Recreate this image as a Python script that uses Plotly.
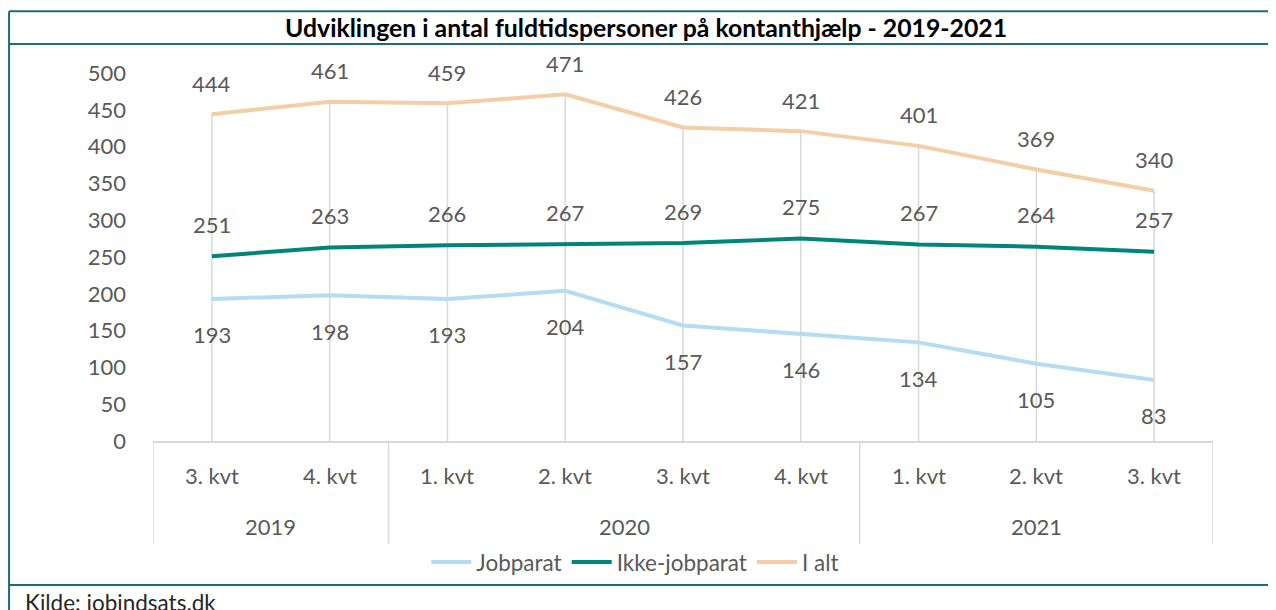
import plotly.graph_objects as go

# data
quarters = ["3. kvt", "4. kvt", "1. kvt", "2. kvt", "3. kvt", "4. kvt", "1. kvt", "2. kvt", "3. kvt"]
years = ["2019", "2020", "2021"]
year_spans = [(0, 1), (2, 5), (6, 8)]
jobparat = [193, 198, 193, 204, 157, 146, 134, 105, 83]
ikke_jobparat = [251, 263, 266, 267, 269, 275, 267, 264, 257]
i_alt = [444, 461, 459, 471, 426, 421, 401, 369, 340]

title = "Udviklingen i antal fuldtidspersoner på kontanthjælp - 2019-2021"
source = "Kilde: jobindsats.dk"

FONT = "Lato"
GREY = "#595959"
TEAL_BORDER = "#1B6E74"
x = list(range(len(quarters)))

fig = go.Figure()

# drop lines from the top point down to the axis
dx, dy = [], []
for i in x:
    top = max(jobparat[i], ikke_jobparat[i], i_alt[i])
    dx += [i, i, None]
    dy += [0, top, None]
fig.add_trace(go.Scatter(x=dx, y=dy, mode="lines", line=dict(color="#D9D9D9", width=1.5),
                         showlegend=False, hoverinfo="skip"))

series = [
    ("Jobparat", jobparat, "#B4DDF4", -36),
    ("Ikke-jobparat", ikke_jobparat, "#00857A", 32),
    ("I alt", i_alt, "#F3CEA6", 31),
]
for name, vals, color, shift in series:
    fig.add_trace(go.Scatter(x=x, y=vals, mode="lines", name=name,
                             line=dict(color=color, width=4)))
    for i, v in zip(x, vals):
        fig.add_annotation(x=i, y=v, text=str(v), showarrow=False, yshift=shift,
                           yanchor="middle", font=dict(family=FONT, size=22, color=GREY))

# category labels
for i, q in zip(x, quarters):
    fig.add_annotation(x=i, y=-0.093, yref="paper", text=q, showarrow=False, yanchor="middle",
                       font=dict(family=FONT, size=22, color=GREY))
for yr, (a, b) in zip(years, year_spans):
    fig.add_annotation(x=(a + b) / 2, y=-0.232, yref="paper", text=yr, showarrow=False,
                       yanchor="middle", font=dict(family=FONT, size=22, color=GREY))
# separators between years
for sep in [-0.5, 1.5, 5.5, 8.5]:
    fig.add_shape(type="line", xref="x", yref="paper", x0=sep, x1=sep, y0=0, y1=-0.28,
                  line=dict(color="#D9D9D9", width=1.5))

# outer frame and title bar
fig.add_shape(type="line", xref="paper", yref="paper", x0=-0.1358, x1=1.08, y0=1.168, y1=1.168,
              line=dict(color=TEAL_BORDER, width=2))
fig.add_shape(type="line", xref="paper", yref="paper", x0=-0.1358, x1=1.08, y0=1.079, y1=1.079,
              line=dict(color=TEAL_BORDER, width=2))
fig.add_shape(type="line", xref="paper", yref="paper", x0=-0.1358, x1=1.08, y0=-0.391, y1=-0.391,
              line=dict(color=TEAL_BORDER, width=2))
fig.add_shape(type="line", xref="paper", yref="paper", x0=-0.1358, x1=-0.1358, y0=1.168, y1=-0.5,
              line=dict(color=TEAL_BORDER, width=2))
fig.add_annotation(x=0.465, y=1.124, xref="paper", yref="paper", text="<b>" + title + "</b>",
                   showarrow=False, xanchor="center", yanchor="middle",
                   font=dict(family=FONT, size=24.8, color="black"))
fig.add_annotation(x=-0.1226, y=-0.44, xref="paper", yref="paper", text=source, xanchor="left",
                   yanchor="middle", showarrow=False,
                   font=dict(family=FONT, size=22.5, color="#262626"))

# the page adds an 8px body margin, so margins are 8px smaller than the target positions
fig.update_layout(
    width=1276, height=610,
    margin=dict(l=145, r=71, t=65, b=177, autoexpand=False),
    paper_bgcolor="white", plot_bgcolor="white",
    font=dict(family=FONT, size=22, color=GREY),
    legend=dict(orientation="h", x=0.455, xanchor="center", y=-0.33, yanchor="middle",
                font=dict(family=FONT, size=22.5, color=GREY), itemwidth=40),
    showlegend=True,
)
fig.update_xaxes(range=[-0.5, 8.5], showgrid=False, zeroline=False, showticklabels=False,
                 showline=True, linecolor="#D9D9D9", linewidth=1.5)
fig.update_yaxes(range=[0, 500], dtick=50, showgrid=False, zeroline=False, showline=False,
                 ticklabelstandoff=26, tickfont=dict(family=FONT, size=22, color=GREY))

fig.write_html("out.html")
